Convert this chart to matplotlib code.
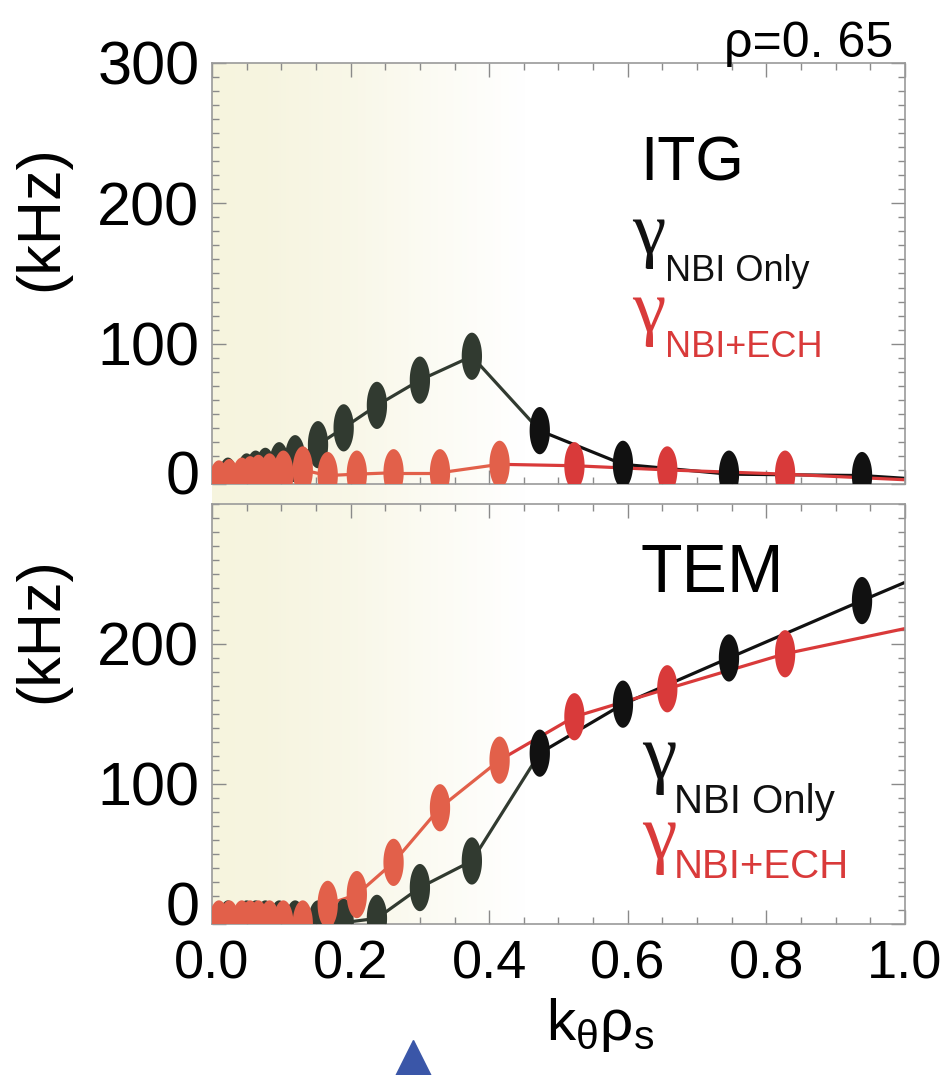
import numpy as np
import matplotlib.pyplot as plt
import matplotlib.transforms as mtransforms
from matplotlib.path import Path
from matplotlib.collections import LineCollection
from matplotlib.ticker import MultipleLocator, FormatStrFormatter

plt.rcParams['font.family'] = ['Liberation Sans', 'DejaVu Sans']
plt.rcParams['mathtext.fontset'] = 'custom'
plt.rcParams['mathtext.rm'] = 'Liberation Sans'
plt.rcParams['mathtext.it'] = 'Liberation Sans'

# growth rates vs k_theta rho_s (last entry of each list is the line end, no marker)
k_nbi = [0.023, 0.05, 0.063, 0.077, 0.097, 0.12, 0.153, 0.19, 0.238, 0.30, 0.375,
         0.473, 0.593, 0.746, 0.938, 1.0]
itg_nbi = [2, 5, 7, 9, 13, 18, 28, 40, 56, 74, 91, 38, 14, 7, 6, 4]
tem_nbi = [0, 0, 0, 0, 0, 0, 0, 1, 4, 26, 45, 122, 157, 190, 231, 244]

k_ech = [0.01, 0.025, 0.043, 0.055, 0.067, 0.083, 0.103, 0.131, 0.167, 0.209, 0.262,
         0.329, 0.415, 0.523, 0.657, 0.827, 1.0]
itg_ech = [0, 1, 2, 3, 4, 5, 7, 10, 6, 7, 8, 8, 14, 13, 10, 7, 3]
tem_ech = [0, 0, 0, 0, 0, 0, 0, 0, 14, 21, 44, 83, 117, 148, 168, 193, 211]

rho_label = 'ρ=0. 65'
arrow_k = 0.29

# colours: points inside the shaded low-k band are drawn a bit tinted
nbi_dark, nbi_tint = '#111111', '#313a30'
ech_dark, ech_tint = '#d93a3a', '#e2604a'
band_edge = 0.43

theta = np.linspace(0, 2 * np.pi, 80)
ellipse = Path(np.column_stack([0.43 * np.cos(theta), np.sin(theta)]), closed=True)

fig = plt.figure(figsize=(9.43, 10.75), dpi=100)
left, width = 0.2248, 0.7349
ax1 = fig.add_axes([left, 0.5498, width, 0.3916])
ax2 = fig.add_axes([left, 0.1405, width, 0.3907])

# yellow band behind both panels
bg = fig.add_axes([left, 0.1405, width, 0.9414 - 0.1405], zorder=-5)
xs = np.linspace(0, 1, 400)
fade = np.interp(xs, [0.0, 0.08, 0.2, 0.32, 0.45, 1.0], [1.0, 0.95, 0.7, 0.35, 0.0, 0.0])
base = np.array([0.965, 0.957, 0.872])
img = np.ones((1, len(xs), 3)) * (1 - fade[None, :, None]) + base * fade[None, :, None]
bg.imshow(img, aspect='auto', extent=[0, 1, 0, 1])
bg.axis('off')


def draw_series(ax, k, g, dark, tint, zmark):
    k = np.asarray(k)
    g = np.asarray(g)
    segs = [[(k[i], g[i]), (k[i + 1], g[i + 1])] for i in range(len(k) - 1)]
    seg_clr = [tint if 0.5 * (k[i] + k[i + 1]) < band_edge else dark for i in range(len(k) - 1)]
    ax.add_collection(LineCollection(segs, colors=seg_clr, linewidths=2.3, zorder=2))
    pk, pg = k[:-1], g[:-1]
    clr = [tint if x < band_edge else dark for x in pk]
    ax.scatter(pk, pg, s=34 ** 2, marker=ellipse, c=clr, linewidths=0, zorder=zmark)


for ax, g_nbi, g_ech in [(ax1, itg_nbi, itg_ech), (ax2, tem_nbi, tem_ech)]:
    ax.set_facecolor('none')
    draw_series(ax, k_nbi, g_nbi, nbi_dark, nbi_tint, 4)
    draw_series(ax, k_ech, g_ech, ech_dark, ech_tint, 5)
    ax.set_xlim(0, 1.0)
    ax.set_ylim(0, 300)
    ax.xaxis.set_major_locator(MultipleLocator(0.2))
    ax.xaxis.set_minor_locator(MultipleLocator(0.05))
    ax.xaxis.set_major_formatter(FormatStrFormatter('%.1f'))
    ax.yaxis.set_minor_locator(MultipleLocator(10))
    ax.tick_params(which='both', direction='in', top=True, right=True, color='#8a8a8a', width=1)
    ax.tick_params(which='major', length=10, pad=9)
    ax.tick_params(axis='y', labelsize=44)
    ax.tick_params(axis='x', labelsize=39, pad=11)
    ax.tick_params(which='minor', length=5)
    for s in ax.spines.values():
        s.set_color('#9a9a9a')
        s.set_linewidth(1.2)

ax1.set_yticks([0, 100, 200, 300])
ax2.set_yticks([0, 100, 200])
ax1.tick_params(labelbottom=False)

# lift the "0" labels clear of the panel below
for ax, dy in [(ax1, 11), (ax2, 20)]:
    t0 = ax.yaxis.get_major_ticks()[0]
    t0.label1.set_transform(t0.label1.get_transform()
                            + mtransforms.ScaledTranslation(0, dy / 100, fig.dpi_scale_trans))

ax1.text(0.618, 0.722, 'ITG', transform=ax1.transAxes, fontsize=45)
ax1.text(0.606, 0.549, 'γ', transform=ax1.transAxes, fontsize=54, family='Liberation Serif', color='#111111')
ax1.text(0.654, 0.482, 'NBI Only', transform=ax1.transAxes, fontsize=26, color='#111111')
ax1.text(0.606, 0.363, 'γ', transform=ax1.transAxes, fontsize=54, family='Liberation Serif', color=ech_dark)
ax1.text(0.654, 0.302, 'NBI+ECH', transform=ax1.transAxes, fontsize=26, color=ech_dark)

ax2.text(0.618, 0.790, 'TEM', transform=ax2.transAxes, fontsize=49)
ax2.text(0.620, 0.348, 'γ', transform=ax2.transAxes, fontsize=56, family='Liberation Serif', color='#111111')
ax2.text(0.667, 0.264, 'NBI Only', transform=ax2.transAxes, fontsize=29, color='#111111')
ax2.text(0.620, 0.157, 'γ', transform=ax2.transAxes, fontsize=56, family='Liberation Serif', color=ech_dark)
ax2.text(0.667, 0.110, 'NBI+ECH', transform=ax2.transAxes, fontsize=29, color=ech_dark)

fig.text(0.044, 0.797, '(kHz)', rotation=90, ha='center', va='center', fontsize=44)
fig.text(0.044, 0.414, '(kHz)', rotation=90, ha='center', va='center', fontsize=44)
fig.text(0.947, 0.947, rho_label, ha='right', va='baseline', fontsize=36)
fig.text(0.637, 0.033, r'$\mathregular{k_{\theta}\rho_{s}}$', ha='center', va='baseline', fontsize=42)

# marker under the axis
trans = mtransforms.blended_transform_factory(ax2.transData, fig.transFigure)
ax2.plot([arrow_k], [0.0102], marker='^', markersize=34.5, color='#3a56a8',
         transform=trans, clip_on=False, linestyle='none')

plt.savefig('out.png', dpi=100)
plt.close()
